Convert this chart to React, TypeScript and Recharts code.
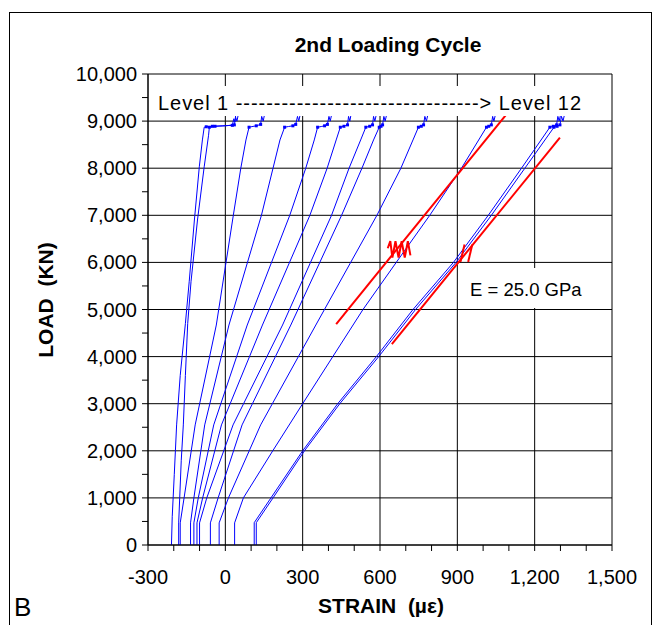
import { LineChart, Line, XAxis, YAxis, CartesianGrid } from "recharts";

// strain (µε) / load (kN), level 1 .. level 12
// third value = 1 marks the small dots at the hold step near 9,000 kN
type P = [number, number, number?];

const LEVEL_1: P[] = [[-209, 0], [-206, 600], [-198, 1500], [-189, 2550], [-175, 3600], [-155, 4700], [-140, 5600], [-120, 6900], [-101, 8030], [-89, 8600], [-82, 8870], [-74, 8880, 1], [-50, 8890, 1], [-10, 8900], [27, 8910, 1], [33, 9050], [37, 8980], [40, 9120]];
const LEVEL_2: P[] = [[-181, 0], [-181, 470], [-177, 1000], [-171, 1800], [-163, 2550], [-155, 3600], [-146, 4700], [-133, 5600], [-108, 6900], [-82, 8030], [-65, 8700], [-62, 8870, 1], [-40, 8890, 1], [0, 8900], [35, 8920, 1], [40, 9080], [45, 9000], [50, 9130]];
const LEVEL_3: P[] = [[-175, 0], [-175, 470], [-160, 1000], [-117, 2550], [-35, 4670], [31, 7000], [60, 8000], [80, 8600], [92, 8870, 1], [100, 8880], [120, 8900, 1], [137, 8930, 1], [141, 9100], [147, 9000], [152, 9140]];
const LEVEL_4: P[] = [[-135, 0], [-135, 470], [-122, 1000], [-80, 2550], [14, 4670], [140, 7000], [185, 8000], [212, 8600], [230, 8870, 1], [245, 8885], [262, 8900, 1], [273, 8930, 1], [280, 9100], [285, 9000], [290, 9130]];
const LEVEL_5: P[] = [[-122, 0], [-122, 470], [-105, 1000], [-45, 2550], [85, 4670], [250, 7000], [312, 8000], [345, 8600], [358, 8870, 1], [372, 8885], [385, 8900, 1], [396, 8930, 1], [402, 9100], [407, 9000], [412, 9130]];
const LEVEL_6: P[] = [[-110, 0], [-110, 470], [-88, 1000], [-15, 2550], [144, 4670], [328, 7000], [395, 8000], [430, 8600], [446, 8870, 1], [460, 8890, 1], [474, 8920, 1], [478, 9100], [483, 9000], [487, 9120]];
const LEVEL_7: P[] = [[-100, 0], [-100, 470], [-72, 1000], [30, 2550], [222, 4670], [412, 7000], [480, 8000], [525, 8600], [545, 8870, 1], [560, 8890, 1], [571, 8920, 1], [575, 9100], [580, 9000], [585, 9120]];
const LEVEL_8: P[] = [[-58, 0], [-58, 470], [-28, 1000], [65, 2550], [254, 4670], [451, 7000], [530, 8000], [575, 8600], [597, 8870, 1], [604, 8890, 1], [610, 8920, 1], [615, 9100], [620, 9000], [625, 9120]];
const LEVEL_9: P[] = [[-24, 0], [-24, 470], [12, 1000], [137, 2550], [351, 4670], [588, 7000], [681, 8000], [728, 8600], [749, 8870, 1], [760, 8890, 1], [769, 8920, 1], [774, 9100], [780, 9000], [785, 9120]];
const LEVEL_10: P[] = [[36, 0], [36, 470], [70, 1000], [184, 2000], [300, 3000], [417, 4000], [534, 5000], [663, 6000], [793, 7000], [916, 8000], [1013, 8870, 1], [1022, 8890, 1], [1032, 8920, 1], [1037, 9100], [1042, 9000], [1047, 9120]];
const LEVEL_11: P[] = [[112, 0], [112, 474], [177, 1000], [300, 2000], [436, 3000], [586, 4000], [728, 5000], [885, 6000], [1020, 7000], [1149, 8000], [1259, 8870, 1], [1272, 8890, 1], [1285, 8920, 1], [1290, 9100], [1295, 9000], [1300, 9120]];
const LEVEL_12: P[] = [[120, 0], [120, 474], [185, 1000], [307, 2000], [444, 3000], [595, 4000], [738, 5000], [895, 6000], [1032, 7000], [1162, 8000], [1275, 8870, 1], [1287, 8890, 1], [1298, 8920, 1], [1304, 9100], [1310, 9000], [1315, 9120]];

const LEVELS = [LEVEL_1, LEVEL_2, LEVEL_3, LEVEL_4, LEVEL_5, LEVEL_6, LEVEL_7, LEVEL_8, LEVEL_9, LEVEL_10, LEVEL_11, LEVEL_12];

// red slope guides (E = 25 GPa) and their hatch marks
const SLOPE_A: P[] = [[430, 4692], [1088, 9129]];
const SLOPE_B: P[] = [[646, 4267], [1298, 8647]];
const HATCH_A: P[] = [[630, 6300], [640, 6450], [648, 6100], [660, 6450], [672, 6100], [684, 6450], [696, 6100], [708, 6450], [718, 6150]];
const HATCH_B1: P[] = [[912, 6010], [928, 6380]];
const HATCH_B2: P[] = [[942, 6010], [958, 6380]];

const X_TICKS = [-300, -200, -100, 0, 100, 200, 300, 400, 500, 600, 700, 800, 900, 1000, 1100, 1200, 1300, 1400, 1500];
const X_GRID = [-300, 0, 300, 600, 900, 1200, 1500];
const Y_TICKS = [0, 500, 1000, 1500, 2000, 2500, 3000, 3500, 4000, 4500, 5000, 5500, 6000, 6500, 7000, 7500, 8000, 8500, 9000, 9500, 10000];
const Y_GRID = [0, 1000, 2000, 3000, 4000, 5000, 6000, 7000, 8000, 9000, 10000];

const BLUE = "#0000FF";
const RED = "#FF0000";
const FONT = "Arial, 'Liberation Sans', sans-serif";

const pts = (arr: P[]) => arr.map(([x, y, m]) => ({ x, y, m: m || 0 }));

const fmt = (v: number) => v.toLocaleString("en-US");

function XTick(props: any) {
  const { x, y, payload } = props;
  if (payload.value % 300 !== 0) return <g />;
  return (
    <text x={x} y={y + 31} textAnchor="middle" fontSize={20} fontFamily={FONT} fill="#000">
      {fmt(payload.value)}
    </text>
  );
}

function YTick(props: any) {
  const { x, y, payload } = props;
  if (payload.value % 1000 !== 0) return <g />;
  return (
    <text x={x} y={y} dy="0.35em" textAnchor="end" fontSize={20} fontFamily={FONT} fill="#000">
      {fmt(payload.value)}
    </text>
  );
}

function StepDot(props: any) {
  const { cx, cy, payload, index } = props;
  if (!payload || !payload.m) return <g key={index} />;
  return <rect key={index} x={cx - 1.5} y={cy - 1.5} width={3} height={3} fill={BLUE} />;
}

export default function App() {
  return (
    <div style={{ position: "absolute", left: 0, top: 0, width: 657, height: 625, overflow: "hidden", background: "#fff" }}>
      <div style={{ position: "absolute", left: 9, top: 12, width: 641, height: 700, border: "1px solid #000" }} />
      <div style={{ position: "absolute", left: 0, top: 0 }}>
        <LineChart width={657} height={625} margin={{ top: 74, right: 45, bottom: 50, left: 68 }}>
          <CartesianGrid stroke="#000" strokeWidth={1} horizontalValues={Y_GRID} verticalValues={X_GRID} />
          <XAxis
            type="number"
            dataKey="x"
            domain={[-300, 1500]}
            ticks={X_TICKS}
            interval={0}
            allowDataOverflow
            height={30}
            tickSize={6}
            tick={<XTick />}
            axisLine={{ stroke: "#000" }}
            tickLine={{ stroke: "#000" }}
          />
          <YAxis
            type="number"
            dataKey="y"
            domain={[0, 10000]}
            ticks={Y_TICKS}
            interval={0}
            allowDataOverflow
            width={80}
            tickSize={6}
            tickMargin={5}
            tick={<YTick />}
            axisLine={{ stroke: "#000" }}
            tickLine={{ stroke: "#000" }}
          />
          {LEVELS.map((lv, i) => (
            <Line
              key={"lv" + i}
              data={pts(lv)}
              dataKey="y"
              type="linear"
              stroke={BLUE}
              strokeWidth={1}
              dot={StepDot}
              activeDot={false}
              isAnimationActive={false}
            />
          ))}
          {[SLOPE_A, SLOPE_B, HATCH_A, HATCH_B1, HATCH_B2].map((s, i) => (
            <Line
              key={"red" + i}
              data={pts(s)}
              dataKey="y"
              type="linear"
              stroke={RED}
              strokeWidth={2}
              dot={false}
              activeDot={false}
              isAnimationActive={false}
            />
          ))}
        </LineChart>
      </div>
      <svg width={657} height={625} style={{ position: "absolute", left: 0, top: 0, pointerEvents: "none" }}>
        <text x={388} y={52} textAnchor="middle" fontSize={21} fontWeight="bold" fontFamily={FONT}>
          2nd Loading Cycle
        </text>
        <rect x={152} y={86} width={432} height={30} fill="#fff" />
        <text x={158} y={110} fontSize={20} fontFamily={FONT} textLength={423} lengthAdjust="spacing">
          Level 1 --------------------------------&gt; Level 12
        </text>
        <rect x={462} y={268} width={145} height={40} fill="#fff" />
        <text x={470} y={296} fontSize={18.5} fontFamily={FONT}>
          E = 25.0 GPa
        </text>
        <text
          x={381}
          y={613}
          textAnchor="middle"
          fontSize={21}
          fontWeight="bold"
          fontFamily={FONT}
          style={{ whiteSpace: "pre" }}
        >
          STRAIN  (µε)
        </text>
        <text
          x={0}
          y={0}
          transform="translate(53,300) rotate(-90)"
          textAnchor="middle"
          fontSize={21}
          fontWeight="bold"
          fontFamily={FONT}
          style={{ whiteSpace: "pre" }}
        >
          LOAD  (KN)
        </text>
        <text x={14} y={616} fontSize={26} fontFamily={FONT}>
          B
        </text>
      </svg>
    </div>
  );
}
